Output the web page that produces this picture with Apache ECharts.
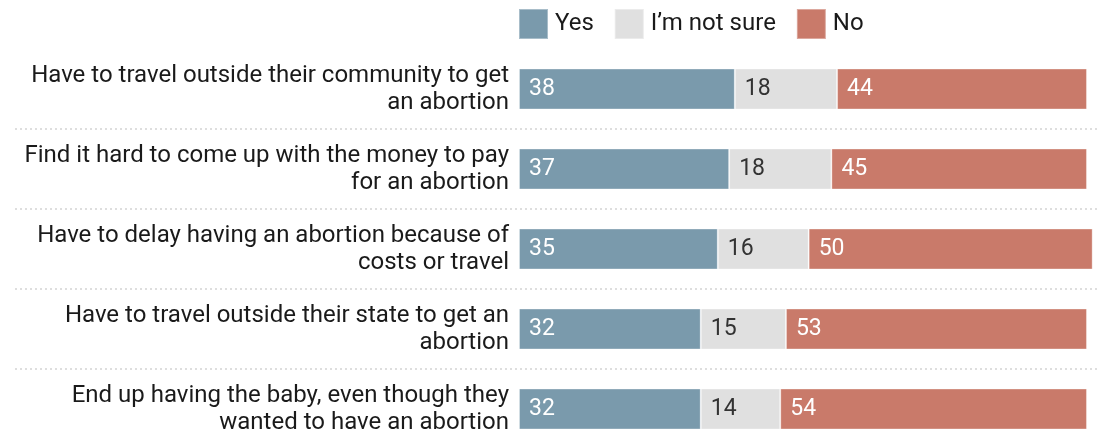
<!DOCTYPE html>
<html><head><meta charset="utf-8">
<script src="https://cdn.jsdelivr.net/npm/echarts@6/dist/echarts.min.js"></script>
<style>html,body{margin:0;padding:0;background:#fff}#c{width:1098px;height:435px}</style>
</head><body><div id="c"></div>
<script>
const categories = [
  "Have to travel outside their community to get\nan abortion",
  "Find it hard to come up with the money to pay\nfor an abortion",
  "Have to delay having an abortion because of\ncosts or travel",
  "Have to travel outside their state to get an\nabortion",
  "End up having the baby, even though they\nwanted to have an abortion"
];
const seriesNames = ["Yes", "I’m not sure", "No"];
const yesValues = [38, 37, 35, 32, 32];
const notSureValues = [18, 18, 16, 15, 14];
const noValues = [44, 45, 50, 53, 54];

const colors = ["#7a9aac", "#e0e0e0", "#c97a6a"];
const labelColors = ["#ffffff", "#333333", "#ffffff"];
const FONT = "Roboto";

const chart = echarts.init(document.getElementById('c'), null, {renderer: 'canvas'});
const dataSets = [yesValues, notSureValues, noValues];
chart.setOption({
  animation: false,
  textStyle: {fontFamily: FONT},
  legend: {
    left: 518, top: 8, padding: 0,
    itemWidth: 29, itemHeight: 30, itemGap: 20,
    icon: 'rect',
    textStyle: {fontSize: 24, color: '#1a1a1a', fontFamily: FONT, padding: [0,0,0,2]},
    data: seriesNames
  },
  grid: {left: 15, right: 0, top: 49, height: 400, outerBoundsMode: 'none', containLabel: false},
  xAxis: {
    type: 'value', min: -88.73, max: 101.94,
    show: false
  },
  yAxis: {
    type: 'category', data: categories, inverse: true,
    axisLine: {show: false}, axisTick: {show: false},
    axisLabel: {
      align: 'right', margin: -494, fontSize: 24, color: '#1a1a1a',
      lineHeight: 27, fontFamily: FONT
    },
    splitLine: {
      show: true,
      interval: function (i) { return i > 0; },
      lineStyle: {color: '#d4d4d4', type: [2, 3], width: 1.5}
    }
  },
  series: dataSets.map((d, k) => ({
    name: seriesNames[k], type: 'bar', stack: 'total',
    barWidth: 41,
    data: d,
    itemStyle: {color: colors[k], borderColor: 'rgba(255,255,255,0.35)', borderWidth: 1},
    label: {
      show: true, position: 'insideLeft', distance: 10,
      fontSize: 23, color: labelColors[k], fontFamily: FONT
    }
  }))
});
</script></body></html>
